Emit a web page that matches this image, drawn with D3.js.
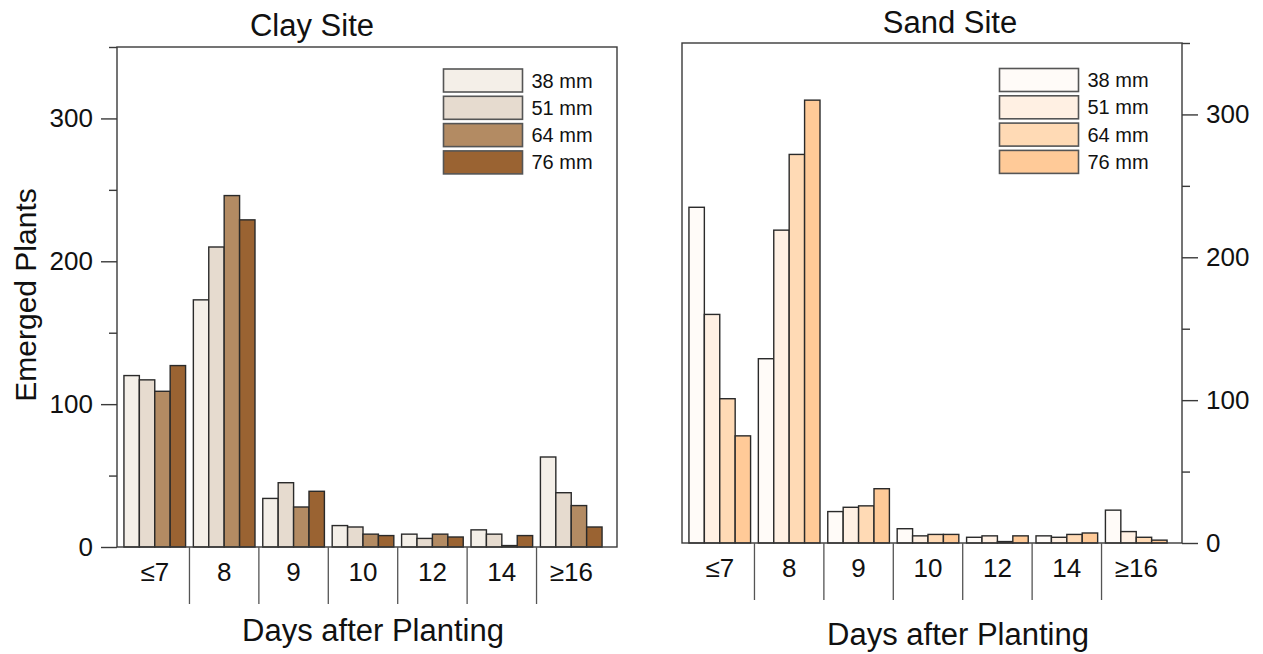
<!DOCTYPE html>
<html>
<head>
<meta charset="utf-8">
<script src="https://cdn.jsdelivr.net/npm/d3@7"></script>
<style>
  html, body { margin: 0; padding: 0; background: #fff; }
  svg { display: block; font-family: "Liberation Sans", Arial, sans-serif; }
</style>
</head>
<body>
<svg id="chart" width="1263" height="654"></svg>
<script>
// ---- Data ----
const categories = ["≤7", "8", "9", "10", "12", "14", "≥16"];
const depths = ["38 mm", "51 mm", "64 mm", "76 mm"];
const yTicks = [0, 100, 200, 300];
const yMinorTicks = [50, 150, 250, 350];

const clay38 = [120, 173, 34, 15, 9, 12, 63];
const clay51 = [117, 210, 45, 14, 6, 9, 38];
const clay64 = [109, 246, 28, 9, 9, 1, 29];
const clay76 = [127, 229, 39, 8, 7, 8, 14];

const sand38 = [235, 129, 22, 10, 4, 5, 23];
const sand51 = [160, 219, 25, 5, 5, 4, 8];
const sand64 = [101, 272, 26, 6, 1, 6, 4];
const sand76 = [75, 310, 38, 6, 5, 7, 2];

const clayColors = ["#f4efe8", "#e6dbcf", "#b38b63", "#9a6332"];
const sandColors = ["#fffbf8", "#fff0e3", "#ffdab5", "#ffca98"];

const svg = d3.select("#chart");

function panel(cfg) {
  const g = svg.append("g");
  const W = 500, H = 500;
  const L = cfg.left, T = cfg.top, B = T + H;
  const series = cfg.series;

  const x = d3.scaleBand().domain(categories)
    .range([L, L + 492]).paddingInner(0.112).paddingOuter(0.1);
  const xi = d3.scaleBand().domain(depths).range([0, x.bandwidth()]).padding(0);
  const y = d3.scaleLinear().domain([0, 350]).range([B, T]);

  // bars
  depths.forEach((d, j) => {
    g.append("g").selectAll("rect")
      .data(series[j])
      .join("rect")
      .attr("x", (v, i) => x(categories[i]) + xi(d))
      .attr("y", v => y(v))
      .attr("width", xi.bandwidth())
      .attr("height", v => B - y(v))
      .attr("fill", cfg.colors[j])
      .attr("stroke", "#2a2a2a")
      .attr("stroke-width", 1.4);
  });

  // frame
  g.append("rect")
    .attr("x", L).attr("y", T).attr("width", W).attr("height", H)
    .attr("fill", "none").attr("stroke", "#3a3a3a").attr("stroke-width", 1.4);

  // y axis
  const axisGen = cfg.axisRight ? d3.axisRight : d3.axisLeft;
  const ax = L + (cfg.axisRight ? W : 0);
  const yAxis = g.append("g").attr("transform", `translate(${ax},0)`)
    .call(axisGen(y).tickValues(yTicks).tickSize(16).tickSizeOuter(0).tickPadding(8).tickFormat(d3.format("d")));
  yAxis.select(".domain").remove();
  yAxis.selectAll("line").attr("stroke", "#3a3a3a").attr("stroke-width", 1.4);
  yAxis.selectAll("text").attr("font-size", 26).attr("fill", "#111")
    .attr("font-family", "Liberation Sans, Arial, sans-serif");
  const yMinor = g.append("g").attr("transform", `translate(${ax},0)`)
    .call(axisGen(y).tickValues(yMinorTicks).tickSize(8).tickSizeOuter(0).tickFormat(""));
  yMinor.select(".domain").remove();
  yMinor.selectAll("line").attr("stroke", "#3a3a3a").attr("stroke-width", 1.4);

  // x axis labels
  const xAxis = g.append("g").attr("transform", `translate(0,${B})`)
    .call(d3.axisBottom(x).tickSize(0).tickPadding(0));
  xAxis.select(".domain").remove();
  xAxis.selectAll("text").attr("font-size", 26).attr("fill", "#111")
    .attr("font-family", "Liberation Sans, Arial, sans-serif")
    .attr("dy", null).attr("y", 34);

  // separators
  const gap = x.step() * x.paddingInner() / 2;
  g.append("g").selectAll("line")
    .data(categories.slice(1))
    .join("line")
    .attr("x1", c => x(c) - gap).attr("x2", c => x(c) - gap)
    .attr("y1", B).attr("y2", B + 57)
    .attr("stroke", "#555").attr("stroke-width", 1.3);

  // title
  g.append("text").attr("x", cfg.titleX).attr("y", cfg.titleY)
    .attr("text-anchor", "middle").attr("font-size", 31).attr("fill", "#111")
    .text(cfg.title);

  // x label
  g.append("text").attr("x", cfg.xlabX).attr("y", cfg.xlabY)
    .attr("text-anchor", "middle").attr("font-size", 31).attr("fill", "#111")
    .text("Days after Planting");

  // legend
  const lg = g.append("g").attr("transform", `translate(${cfg.legX},${cfg.legY})`);
  depths.forEach((d, j) => {
    lg.append("rect").attr("x", 0).attr("y", j * 27.3)
      .attr("width", 79).attr("height", 23)
      .attr("fill", cfg.colors[j]).attr("stroke", "#555").attr("stroke-width", 1.6);
    lg.append("text").attr("x", 88).attr("y", j * 27.3 + 18.5)
      .attr("font-size", 20).attr("fill", "#111").text(d);
  });
  return { g, x, y };
}

panel({
  left: 117, top: 47, axisRight: false,
  series: [clay38, clay51, clay64, clay76], colors: clayColors,
  title: "Clay Site", titleX: 312, titleY: 36,
  xlabX: 373, xlabY: 641,
  legX: 443.5, legY: 69
});

panel({
  left: 682, top: 43, axisRight: true,
  series: [sand38, sand51, sand64, sand76], colors: sandColors,
  title: "Sand Site", titleX: 950, titleY: 33,
  xlabX: 958, xlabY: 645,
  legX: 999.5, legY: 68.5
});

// y-axis label
svg.append("text")
  .attr("transform", "translate(36,295) rotate(-90)")
  .attr("text-anchor", "middle").attr("font-size", 30).attr("fill", "#111")
  .text("Emerged Plants");
</script>
</body>
</html>
